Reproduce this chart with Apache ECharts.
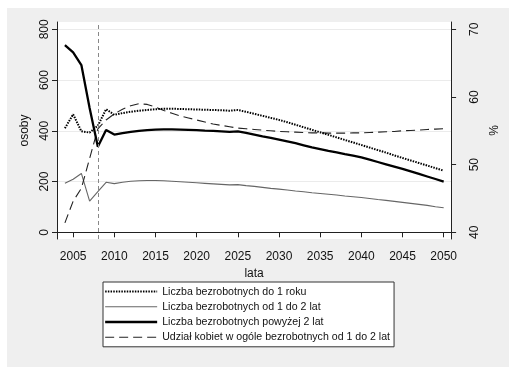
<!DOCTYPE html>
<html>
<head>
<meta charset="utf-8">
<script src="https://cdn.jsdelivr.net/npm/echarts@6/dist/echarts.min.js"></script>
<style>html,body{margin:0;padding:0;background:#fff}#c{width:509px;height:373px}</style>
</head>
<body>
<div id="c"></div>
<script>
const years = [2004,2005,2006,2007,2008,2009,2010,2011,2012,2013,2014,2015,2016,2017,2018,2019,2020,2021,2022,2023,2024,2025,2026,2027,2028,2029,2030,2031,2032,2033,2034,2035,2036,2037,2038,2039,2040,2041,2042,2043,2044,2045,2046,2047,2048,2049,2050];
const do1roku = [410,465,398,393,420,485,463,470,475,479,482,485,487,487,486,485,484,483,482,481,479,482,475,467,459,451,443,434,424,414,404,394,384,374,364,354,344,334,324,314,303,293,283,273,263,253,243];
const od1do2 = [193,209,232,123,160,197,192,197,201,203,204,204,203,201,199,197,195,193,191,189,187,188,184,181,177,173,170,167,163,160,156,153,150,147,143,140,137,133,129,126,122,118,114,110,106,101,97];
const powyzej2 = [738,709,659,490,337,403,385,391,396,400,403,405,406,406,405,404,403,401,400,398,396,398,392,385,378,372,365,358,351,343,335,328,321,315,308,302,295,286,277,268,259,250,240,230,220,210,200];
const udzialKobiet = [41.4,44.6,46.5,50.9,55.3,56.6,57.5,58.2,58.7,59.0,58.9,58.5,58.0,57.6,57.2,56.9,56.6,56.3,56.0,55.8,55.6,55.4,55.3,55.2,55.1,55.0,54.9,54.85,54.8,54.75,54.7,54.7,54.65,54.65,54.65,54.7,54.7,54.75,54.8,54.85,54.9,55.0,55.05,55.1,55.2,55.25,55.3];
const xTicks = [2005,2010,2015,2020,2025,2030,2035,2040,2045,2050];
const yLeftTicks = [0,200,400,600,800];
const yRightTicks = [40,50,60,70];
const xLine = 2008;
const names = ['Liczba bezrobotnych do 1 roku','Liczba bezrobotnych od 1 do 2 lat','Liczba bezrobotnych powyżej 2 lat','Udział kobiet w ogóle bezrobotnych od 1 do 2 lat'];

const FONT = 'Liberation Sans, Arial, sans-serif';
const pair = (arr) => years.map((y, i) => [y, arr[i]]);
const axisCol = '#222';
const plain = (v) => String(v);

const chart = echarts.init(document.getElementById('c'), null, {renderer: 'canvas'});
chart.setOption({
  animation: false,
  backgroundColor: '#fff',
  graphic: [{type: 'rect', z: -10, shape: {x: 7, y: 8, width: 502, height: 359}, style: {fill: '#efefef'}}],
  grid: {left: 57, right: 44, top: 22, bottom: 134, show: true, backgroundColor: '#fff', borderWidth: 0, z: 0},
  xAxis: {
    type: 'value', min: 2003.04, max: 2050.9,
    name: 'lata', nameLocation: 'middle', nameGap: 24,
    nameTextStyle: {fontFamily: FONT, fontSize: 12, color: '#111'},
    axisLine: {show: true, lineStyle: {color: axisCol, width: 1}},
    axisTick: {show: true, length: 5, lineStyle: {color: axisCol}, customValues: xTicks},
    axisLabel: {fontFamily: FONT, fontSize: 12, color: '#111', margin: 12, customValues: xTicks, formatter: plain},
    splitLine: {show: false}
  },
  yAxis: [{
    type: 'value', position: 'left', min: -26.4, max: 828.8,
    name: 'osoby', nameLocation: 'middle', nameGap: 10, nameRotate: 90,
    nameTextStyle: {fontFamily: FONT, fontSize: 12, color: '#111'},
    axisLine: {show: true, lineStyle: {color: axisCol, width: 1}},
    axisTick: {show: true, length: 5, lineStyle: {color: axisCol}, customValues: yLeftTicks},
    axisLabel: {fontFamily: FONT, fontSize: 12, color: '#111', rotate: 90, margin: 6, customValues: yLeftTicks, formatter: plain},
    splitLine: {show: true, lineStyle: {color: '#ebebeb', width: 1}}
  }, {
    type: 'value', position: 'right', min: 39.01, max: 71.08,
    name: '%', nameLocation: 'middle', nameGap: 22, nameRotate: 90,
    nameTextStyle: {fontFamily: FONT, fontSize: 12, color: '#111'},
    axisLine: {show: true, lineStyle: {color: axisCol, width: 1}},
    axisTick: {show: true, length: 5, lineStyle: {color: axisCol}, customValues: yRightTicks},
    axisLabel: {fontFamily: FONT, fontSize: 12, color: '#111', rotate: 90, margin: 18, customValues: yRightTicks, formatter: plain},
    splitLine: {show: false}
  }],
  legend: {
    orient: 'vertical', left: 103, top: 282, padding: [4, 4, 4, 1],
    itemWidth: 52, itemHeight: 14, itemGap: 4,
    backgroundColor: '#fff', borderColor: '#333', borderWidth: 1, borderRadius: 0,
    itemStyle: {opacity: 0},
    lineStyle: {width: 'inherit'},
    textStyle: {fontFamily: FONT, fontSize: 10.6, color: '#111', width: 254},
    data: names
  },
  series: [{
    name: names[0], type: 'line', yAxisIndex: 0, data: pair(do1roku), symbol: 'none', z: 3,
    itemStyle: {color: '#000'},
    lineStyle: {color: '#000', width: 2, type: [1.5, 1.2]},
    markLine: {silent: true, symbol: 'none', label: {show: false},
      lineStyle: {color: '#888', width: 1, type: [4, 3]}, data: [{xAxis: xLine}]}
  }, {
    name: names[1], type: 'line', yAxisIndex: 0, data: pair(od1do2), symbol: 'none', z: 2,
    itemStyle: {color: '#666'},
    lineStyle: {color: '#666', width: 1.1, type: 'solid'}
  }, {
    name: names[2], type: 'line', yAxisIndex: 0, data: pair(powyzej2), symbol: 'none', z: 4,
    itemStyle: {color: '#000'},
    lineStyle: {color: '#000', width: 2.3, type: 'solid'}
  }, {
    name: names[3], type: 'line', yAxisIndex: 1, data: pair(udzialKobiet), symbol: 'none', z: 2,
    itemStyle: {color: '#222'},
    lineStyle: {color: '#222', width: 1.1, type: [9, 5]}
  }]
});
</script>
</body>
</html>
